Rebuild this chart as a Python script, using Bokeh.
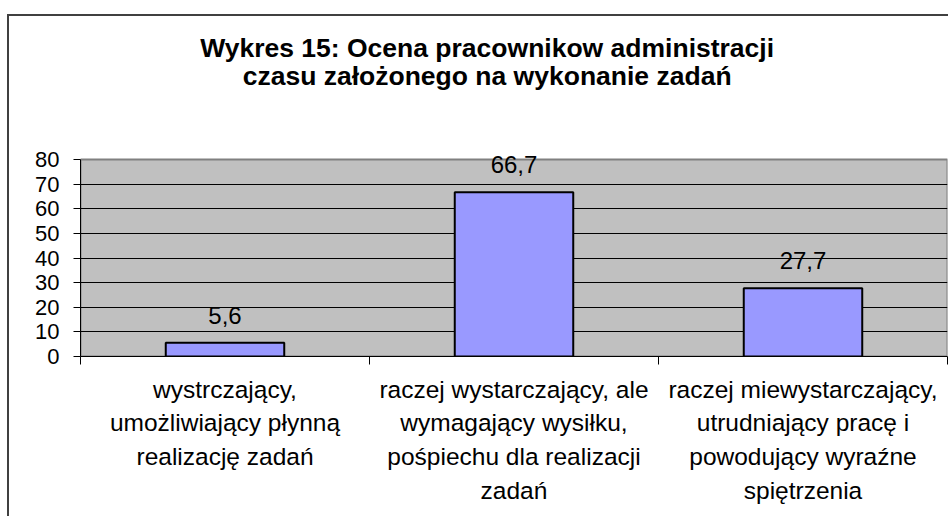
from bokeh.plotting import figure
from bokeh.models import Range1d, FixedTicker, ColumnDataSource, LabelSet, Label
from bokeh.embed import file_html
from bokeh.resources import INLINE
from bokeh.core.properties import value

# ---- data ----
categories = [
    "wystrczający,\numożliwiający płynną\nrealizację zadań",
    "raczej wystarczający, ale\nwymagający wysiłku,\npośpiechu dla realizacji\nzadań",
    "raczej miewystarczający,\nutrudniający pracę i\npowodujący wyraźne\nspiętrzenia",
]
values = [5.6, 66.7, 27.7]
y_ticks = [0, 10, 20, 30, 40, 50, 60, 70, 80]
title_lines = ["Wykres 15: Ocena pracownikow administracji",
               "czasu założonego na wykonanie zadań"]

FONT = "Liberation Sans"

# ---- layout ----
W, H = 941, 502
BORDER_BOTTOM = 162
PLOT_H = 197                      # pixel height of the grey plot area (0..80)
frame_h = H - BORDER_BOTTOM
y_end = y_ticks[-1] * frame_h / PLOT_H   # frame extends above the grey area for titles

x_pos = [i + 0.5 for i in range(len(categories))]
bounds = list(range(len(categories) + 1))
labels = [f"{v:.1f}".replace(".", ",") for v in values]
src = ColumnDataSource(dict(x=x_pos, top=values, label=labels))

p = figure(width=W, height=H, output_backend="svg", toolbar_location=None,
           x_range=Range1d(0, len(categories)), y_range=Range1d(y_ticks[0], y_end),
           min_border_left=71, min_border_right=3, min_border_top=0,
           min_border_bottom=BORDER_BOTTOM, title=None)
p.styles = {"margin-top": "14px", "margin-left": "7px",
            "border-top": "2px solid #404040", "border-left": "2px solid #404040"}

p.background_fill_color = "white"
p.border_fill_color = "white"
p.outline_line_color = None
p.xgrid.visible = False
p.ygrid.visible = False

# grey plot area
p.quad(left=[bounds[0]], right=[bounds[-1]], bottom=[y_ticks[0]], top=[y_ticks[-1]],
       fill_color="#C0C0C0", line_color="#808080", line_width=2)
# horizontal gridlines
p.hspan(y=y_ticks[1:-1], line_color="black", line_width=1)

# x axis
xa = p.xaxis[0]
xa.ticker = FixedTicker(ticks=x_pos, minor_ticks=bounds)
xa.major_label_overrides = {x: c for x, c in zip(x_pos, categories)}
xa.axis_line_color = "black"
xa.axis_line_width = 1
xa.major_tick_line_color = None
xa.major_tick_out = 8
xa.major_tick_in = 0
xa.minor_tick_line_color = "black"
xa.minor_tick_out = 8
xa.minor_tick_in = 0
xa.major_label_text_font = FONT
xa.major_label_text_font_size = "24.5px"
xa.major_label_text_color = "black"
xa.major_label_text_line_height = 1.25
xa.major_label_standoff = 11

# y axis
ya = p.yaxis[0]
ya.ticker = FixedTicker(ticks=y_ticks)
ya.bounds = (y_ticks[0], y_ticks[-1])
ya.axis_line_color = "black"
ya.major_tick_line_color = "black"
ya.major_tick_out = 7
ya.major_tick_in = 0
ya.minor_tick_line_color = None
ya.major_label_text_font = FONT
ya.major_label_text_font_size = "22px"
ya.major_label_text_color = "black"
ya.major_label_standoff = 14

# bars
p.vbar(x="x", top="top", bottom=0, width=0.41, source=src,
       fill_color="#9999FF", line_color="black", line_width=2)

# value labels
p.add_layout(LabelSet(x="x", y="top", text="label", source=src, y_offset=19,
                      text_align="center", text_baseline="alphabetic",
                      text_font=value(FONT), text_font_size=value("24px"),
                      text_color="black"))

# title (two centred lines above the plot area)
title_x = 1.407
for line, ty in zip(title_lines, [125.2, 113.9]):
    p.add_layout(Label(x=title_x, y=ty, text=line, text_align="center",
                       text_baseline="alphabetic", text_font=FONT,
                       text_font_style="bold", text_font_size="26.5px",
                       text_color="black"))

with open("out.html", "w", encoding="utf-8") as f:
    f.write(file_html(p, INLINE))
